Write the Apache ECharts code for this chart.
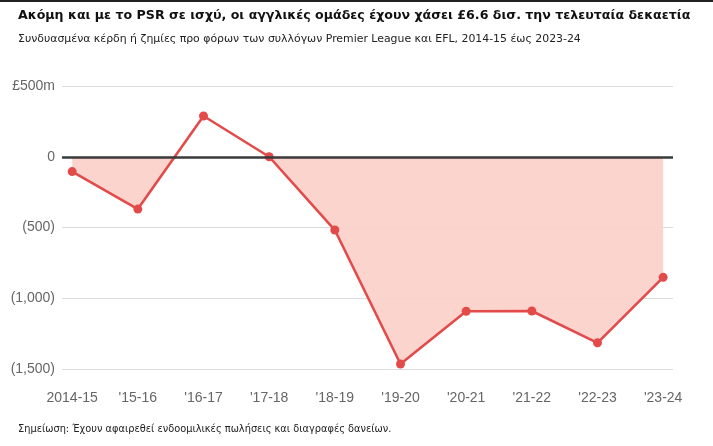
<!DOCTYPE html>
<html>
<head>
<meta charset="utf-8">
<script src="https://cdn.jsdelivr.net/npm/echarts@6/dist/echarts.min.js"></script>
<style>
html,body{margin:0;padding:0;background:#fff;}
#chart{width:713px;height:446px;}
</style>
</head>
<body>
<div id="chart"></div>
<script>
const seasons = ['2014-15', "'15-16", "'16-17", "'17-18", "'18-19", "'19-20", "'20-21", "'21-22", "'22-23", "'23-24"];
const profitLoss = [-105, -370, 288, 0, -518, -1465, -1092, -1090, -1315, -852];
const yTicks = [-1500, -1000, -500, 0, 500];

const titleText = 'Ακόμη και με το PSR σε ισχύ, οι αγγλικές ομάδες έχουν χάσει £6.6 δισ. την τελευταία δεκαετία';
const subtitleText = 'Συνδυασμένα κέρδη ή ζημίες προ φόρων των συλλόγων Premier League και EFL, 2014-15 έως 2023-24';
const noteText = 'Σημείωση: Έχουν αφαιρεθεί ενδοομιλικές πωλήσεις και διαγραφές δανείων.';

const points = profitLoss.map((v, i) => [i, v]);

// Fill only the losses: clip the line at zero (derived from the data).
const lossArea = [];
for (let i = 0; i < profitLoss.length; i++) {
  const v = profitLoss[i];
  lossArea.push([i, Math.min(v, 0)]);
  if (i < profitLoss.length - 1) {
    const n = profitLoss[i + 1];
    if ((v < 0 && n > 0) || (v > 0 && n < 0)) {
      lossArea.push([i + v / (v - n), 0]);
    }
  }
}

function yLabel(v) {
  if (v === 500) return '£500m';
  if (v === 0) return '0';
  if (v < 0) return '(' + Math.abs(v).toLocaleString('en-US') + ')';
  return v.toLocaleString('en-US');
}

const chart = echarts.init(document.getElementById('chart'), null, {renderer: 'canvas'});
chart.setOption({
  animation: false,
  backgroundColor: '#fff',
  title: [
    {text: titleText, left: 13, top: 4,
     textStyle: {fontFamily: 'DejaVu Sans', fontWeight: 'bold', fontSize: 12.6, color: '#111'}},
    {text: subtitleText, left: 13, top: 29,
     textStyle: {fontFamily: 'DejaVu Sans', fontWeight: 'normal', fontSize: 10.9, color: '#222'}},
    {text: noteText, left: 13, top: 419,
     textStyle: {fontFamily: 'DejaVu Sans', fontWeight: 'normal', fontSize: 9.8, color: '#222'}}
  ],
  graphic: [
    {type: 'rect', left: 0, top: 0, shape: {width: 713, height: 2}, style: {fill: '#222'}}
  ],
  grid: {left: 62, right: 40, top: 86, bottom: 77, containLabel: false},
  xAxis: {
    type: 'value', min: -0.155, max: 9.15,
    axisLine: {show: false}, axisTick: {show: false}, splitLine: {show: false},
    axisLabel: {
      customValues: seasons.map((s, i) => i),
      formatter: v => seasons[Math.round(v)],
      color: '#666', fontFamily: 'Liberation Sans', fontSize: 14, margin: 22
    }
  },
  yAxis: {
    type: 'value', min: -1500, max: 500, interval: 500,
    axisLine: {show: false}, axisTick: {show: false},
    splitLine: {lineStyle: {color: '#dcdcdc', width: 1.2}},
    axisLabel: {formatter: yLabel, color: '#666', fontFamily: 'Liberation Sans', fontSize: 14, margin: 7}
  },
  series: [
    {
      type: 'line', data: lossArea, symbol: 'none', silent: true,
      lineStyle: {width: 0, opacity: 0},
      areaStyle: {color: '#fcd0ca', opacity: 0.92, origin: 0},
      z: 1
    },
    {
      type: 'line', data: points, symbol: 'circle', symbolSize: 9,
      itemStyle: {color: '#e34b4b'},
      lineStyle: {color: '#e34b4b', width: 2.6},
      markLine: {
        silent: true, symbol: 'none', label: {show: false},
        lineStyle: {color: '#3a3a3a', width: 2.5, type: 'solid'},
        data: [{yAxis: 0}]
      },
      z: 3
    }
  ]
});
</script>
</body>
</html>
